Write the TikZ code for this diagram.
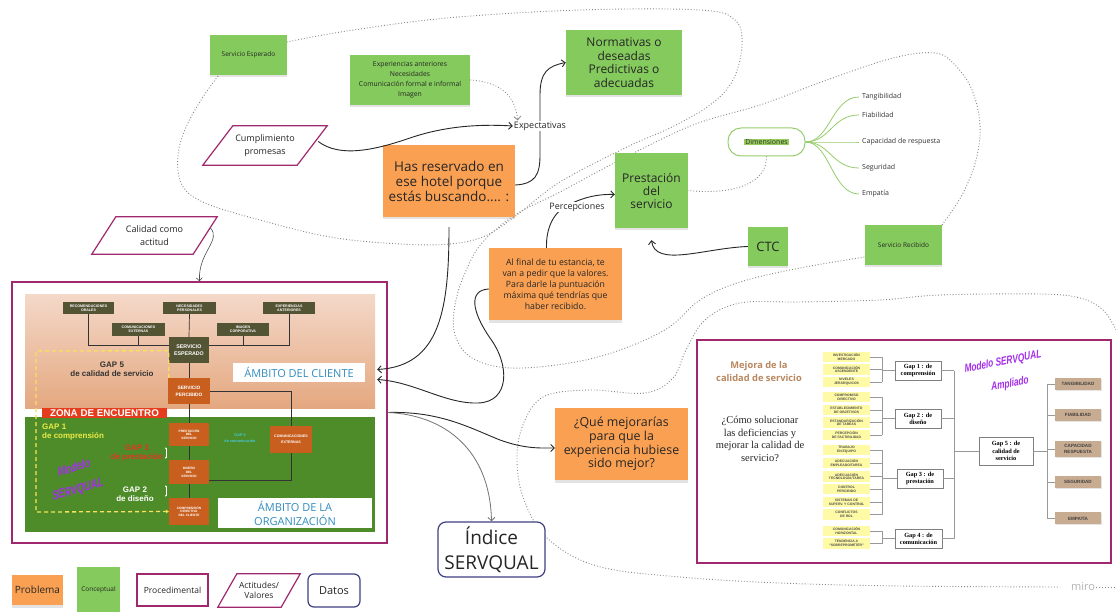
\documentclass[tikz,border=0pt]{standalone}
\usepackage{fontspec}
\setmainfont{Open Sans}
\newfontfamily\arialf{Liberation Sans}
\newfontfamily\seriff{Liberation Serif}
\usetikzlibrary{shadows,arrows.meta,calc}
\definecolor{orng}{RGB}{250,160,82}
\definecolor{grn}{RGB}{132,202,92}
\definecolor{mag}{RGB}{160,40,110}
\definecolor{navy}{RGB}{62,64,130}
\definecolor{dotg}{RGB}{135,135,135}
\definecolor{olive}{RGB}{82,84,52}
\definecolor{sorng}{RGB}{200,95,30}
\definecolor{zred}{RGB}{230,60,30}
\definecolor{orggrn}{RGB}{78,140,42}
\definecolor{salt}{RGB}{244,216,200}
\definecolor{salb}{RGB}{228,168,128}
\definecolor{ambblue}{RGB}{50,140,190}
\definecolor{purp}{RGB}{165,45,235}
\definecolor{ylw}{RGB}{255,250,165}
\definecolor{tanc}{RGB}{200,172,145}
\definecolor{tantext}{RGB}{185,135,95}
\definecolor{lgrn}{RGB}{150,205,110}
\definecolor{hlg}{RGB}{150,205,90}
\definecolor{gapy}{RGB}{235,235,70}
\definecolor{gapr}{RGB}{225,55,30}
\definecolor{cyanc}{RGB}{70,200,215}
\definecolor{ydash}{RGB}{250,225,90}
\newcommand{\fsz}[2]{\fontsize{#1}{#2}\selectfont}
\newcommand{\pxbox}[7]{\node[#2,minimum width={(#5-#3)*1pt},minimum height={(#6-#4)*1pt},inner sep=0pt] (#1) at ({(#3+#5)/2},{(#4+#6)/2}) {#7};}
\tikzset{
 note/.style={fill=#1, align=center, text=black!85, drop shadow={opacity=0.22,shadow xshift=0pt,shadow yshift=-2.5pt}},
 cloudl/.style={draw=dotg, line width=0.9pt, dash pattern=on 0.9pt off 2pt},
 conn/.style={draw=black!85, line width=0.9pt, -{Straight Barb[length=3.5pt,width=7pt]}},
 connthin/.style={draw=black!70, line width=0.6pt, -{Straight Barb[length=3pt,width=6pt]}},
 conngray/.style={draw=black!55, line width=0.8pt, -{Straight Barb[length=3.5pt,width=7pt]}},
 dotarr/.style={draw=dotg, line width=0.8pt, dash pattern=on 0.9pt off 2pt, -{Straight Barb[length=3.5pt,width=7pt]}},
 brl/.style={draw=lgrn, line width=0.8pt},
 sline/.style={draw=black!80, line width=0.7pt},
 gl/.style={draw=black!40, line width=0.6pt},
 para/.style={draw=mag, line width=1.2pt},
 olbox/.style={fill=olive, text=white, font=\arialf\bfseries\fsz{3.6}{4.2}, align=center},
 obox/.style={fill=sorng, text=white, font=\arialf\bfseries\fsz{3.2}{3.8}, align=center},
 ybox/.style={fill=ylw, minimum width=47pt, minimum height=10.5pt, inner sep=0pt, font=\arialf\bfseries\fsz{3.4}{3.9}, text=black!70, align=center},
 gbox/.style={draw=black!50, line width=0.6pt, fill=white, font=\seriff\bfseries\fsz{6.3}{7.2}, align=center},
 tbox/.style={fill=tanc, font=\arialf\bfseries\fsz{4.6}{5.3}, text=black!75, align=center, drop shadow={opacity=0.2,shadow xshift=0.8pt,shadow yshift=-0.8pt}},
 gapt/.style={font=\arialf\bfseries\fsz{8}{9}, align=center, inner sep=0pt},
 purpt/.style={text=purp, inner sep=0pt, xscale=0.72},
}
\begin{document}
\begin{tikzpicture}[x=1pt,y=-1pt]
\fill[white] (0,0) rectangle (1116,612);
\useasboundingbox (0,0) rectangle (1116,612);

% ---------- dotted clouds ----------
\draw[cloudl] plot[smooth,tension=0.6] coordinates {(218,76) (203,97) (187,125) (178,155) (182,185) (205,203) (260,220) (330,237) (400,244) (450,244) (485,236) (517,215) (560,182) (627,147) (670,128) (710,105) (733,80) (742,45) (735,20) (700,10) (580,10) (447,18) (347,31) (287,42)};
\draw[cloudl] plot[smooth,tension=0.6] coordinates {(942,225) (962,195) (976,160) (980,125) (972,90) (955,65) (935,53) (893,58) (827,80) (760,105) (693,125) (620,160) (560,192) (515,215) (482,243) (465,273) (455,305) (455,335) (472,358) (510,368) (570,363) (620,350) (668,328) (700,300) (740,282) (800,268) (865,257)};
\draw[cloudl] plot[smooth,tension=0.6] coordinates {(1116,330) (1103,310) (1080,298) (1040,294) (940,295) (880,300) (800,302) (740,303) (705,320) (686,350) (673,378) (645,393) (590,390) (545,396) (525,420) (517,455) (523,497) (547,538) (597,566) (680,577) (780,583) (900,586) (1060,587)};
\node[text=black!30, font=\fsz{11}{12}, inner sep=1pt] (miro) at (1083,587) {miro};
\draw[cloudl] (miro.east) -- (1116,587);

% ---------- main notes ----------
\pxbox{sesp0}{note=grn, font=\fsz{6.5}{8}}{210}{35}{287}{75}{Servicio Esperado}
\pxbox{exper}{note=grn, font=\fsz{6.8}{10}}{350}{55}{470}{105}{Experiencias anteriores\\Necesidades\\Comunicación formal e informal\\Imagen}
\pxbox{normat}{note=grn, font=\fsz{12}{13.5}}{566}{30}{682}{95}{Normativas o\\deseadas\\Predictivas o\\adecuadas}
\pxbox{hasres}{note=orng, font=\fsz{13.5}{15}}{383}{145}{515}{217}{Has reservado en\\ese hotel porque\\estás buscando.... :}
\pxbox{prest}{note=grn, font=\fsz{12}{13}}{615}{153}{688}{228}{Prestación\\del\\servicio}
\pxbox{ctc}{note=grn, font=\fsz{13}{14}}{748}{227}{788}{266}{CTC}
\pxbox{srec}{note=grn, font=\fsz{6.5}{8}}{865}{225}{942}{265}{Servicio Recibido}
\pxbox{alfinal}{note=orng, font=\fsz{8.7}{11}}{489}{248}{622}{320}{Al final de tu estancia, te\\van a pedir que la valores.\\Para darle la puntuación\\máxima qué tendrías que\\haber recibido.}
\pxbox{quemej}{note=orng, font=\fsz{12.4}{13.7}}{555}{408}{688}{480}{¿Qué mejorarías\\para que la\\experiencia hubiese\\sido mejor?}
\pxbox{indice}{draw=navy, line width=1.2pt, rounded corners=8pt, fill=white, align=center, text=black!85, font=\fsz{19}{25}}{438}{522}{545}{577}{Índice\\SERVQUAL}
\pxbox{dim}{draw=lgrn, line width=1pt, rounded corners=13pt, fill=white, text=black!80, font=\fsz{7}{8}}{728}{128}{805}{156}{{\setlength{\fboxsep}{0.8pt}\colorbox{hlg}{Dimensiones}}}

\foreach \nm/\yy/\tx in {bt/97/Tangibilidad, bf/115/Fiabilidad, bc/142/Capacidad de respuesta, bs/168/Seguridad, be/194/Empatía}{
 \node[anchor=west, inner sep=1pt, font=\fsz{7}{8}, text=black!80] (\nm) at (861,\yy) {\tx};
 \draw[brl] (dim.east) .. controls (830,142) and (832,\yy) .. ([xshift=-2pt]\nm.west);
}

% parallelograms
\pxbox{cumpl}{align=center, text=black!85, font=\fsz{9}{13}}{203}{126}{327}{165}{Cumplimiento\\promesas}
\draw[para] (cumpl.south west) -- ([xshift=30pt]cumpl.north west) -- (cumpl.north east) -- ([xshift=-30pt]cumpl.south east) -- cycle;
\pxbox{calid}{align=center, text=black!85, font=\fsz{9}{13}}{92}{217}{217}{254}{Calidad como\\actitud}
\draw[para] (calid.south west) -- ([xshift=24pt]calid.north west) -- (calid.north east) -- ([xshift=-24pt]calid.south east) -- cycle;

% ---------- legend ----------
\pxbox{lprob}{note=orng, font=\fsz{10}{11}}{12}{575}{63}{605}{Problema}
\pxbox{lconc}{note=grn, font=\fsz{6.5}{8}}{77}{567}{120}{612}{Conceptual}
\pxbox{lproc}{draw=mag, line width=1.2pt, fill=white, text=black!85, font=\fsz{8.5}{10}}{137}{574}{208}{606}{Procedimental}
\pxbox{lact}{align=center, text=black!85, font=\fsz{8.5}{10.5}}{218}{574}{300}{607}{Actitudes/\\Valores}
\draw[para] (lact.south west) -- ([xshift=19pt]lact.north west) -- (lact.north east) -- ([xshift=-19pt]lact.south east) -- cycle;
\pxbox{ldat}{draw=navy, line width=1.2pt, rounded corners=6pt, fill=white, text=black!85, font=\fsz{11}{12}}{308}{574}{360}{607}{Datos}

% ---------- left SERVQUAL picture ----------
\pxbox{leftbox}{draw=mag, line width=1.5pt, fill=white}{12}{282}{387}{543}{}
\shade[top color=salt, bottom color=salb] (25,295) rectangle (375,408);
\fill[orggrn] (25,417) rectangle (375,532);
\pxbox{rec}{olbox}{63}{302}{114}{314}{RECOMENDACIONES\\ORALES}
\pxbox{nec}{olbox}{163}{302}{216}{314}{NECESIDADES\\PERSONALES}
\pxbox{expa}{olbox}{263}{302}{315}{314}{EXPERIENCIAS\\ANTERIORES}
\pxbox{comx}{olbox}{112}{323}{165}{336}{COMUNICACIONES\\EXTERNAS}
\pxbox{imag}{olbox}{217}{323}{269}{336}{IMAGEN\\CORPORATIVA}
\pxbox{sesp}{olbox, font=\arialf\bfseries\fsz{5.3}{7.5}}{169}{337}{209}{363}{SERVICIO\\ESPERADO}
\pxbox{sperc}{obox, font=\arialf\bfseries\fsz{4.8}{6.8}}{168}{378}{210}{404}{SERVICIO\\PERCIBIDO}
\pxbox{prs}{obox}{169}{423}{209}{446}{PRESTACIÓN\\DEL\\SERVICIO}
\pxbox{dis}{obox}{169}{460}{209}{484}{DISEÑO\\DEL\\SERVICIO}
\pxbox{cmp}{obox}{169}{498}{209}{525}{COMPRENSIÓN\\DIRECTIVA\\DEL CLIENTE}
\pxbox{comx2}{obox, font=\arialf\bfseries\fsz{3.6}{5.5}}{270}{426}{312}{453}{COMUNICACIONES\\EXTERNAS}
\draw[sline] (rec.south) |- ([yshift=5pt]sesp.west);
\draw[sline] (expa.south) |- ([yshift=5pt]sesp.east);
\draw[sline] (comx.south) -- ++(0,9);
\draw[sline] (imag.south) -- ++(0,9);
\draw[sline] (nec.south) -- (sesp.north);
\draw[sline] (sesp.south) -- (sperc.north);
\draw[sline] (sperc.south) -- (prs.north);
\draw[sline] (prs.south) -- (dis.north);
\draw[sline] (dis.south) -- (cmp.north);
\draw[sline] (sperc.east) -| (comx2.north);
\draw[sline] (comx2.south) |- ([yshift=-8pt]dis.east);
\draw[draw=ydash, line width=1.3pt, dash pattern=on 4pt off 3pt, -{Stealth[length=3pt,width=4pt]}] ([xshift=1pt]sperc.north west) -- ++(0,-27) -- (36,351) -- (36,512) -- (cmp.west);
\draw[draw=white, line width=0.6pt, {Stealth[length=2pt]}-{Stealth[length=2pt]}] ([xshift=-3pt,yshift=-1pt]prs.south west) -- ([xshift=-3pt,yshift=1pt]dis.north west);
\draw[draw=white, line width=0.6pt, {Stealth[length=2pt]}-{Stealth[length=2pt]}] ([xshift=-3pt,yshift=-1pt]dis.south west) -- ([xshift=-3pt,yshift=1pt]cmp.north west);
\pxbox{cliente}{fill=white, text=ambblue, font=\fsz{11}{12}}{233}{363}{365}{382}{ÁMBITO DEL CLIENTE}
\pxbox{org}{fill=white, text=ambblue, font=\fsz{11}{14}, align=center}{218}{498}{372}{528}{ÁMBITO DE LA\\ORGANIZACIÓN}
\pxbox{zona}{fill=zred, text=white, font=\arialf\bfseries\fsz{9.8}{10}}{42}{408}{167}{418}{ZONA DE ENCUENTRO}
\node[gapt, text=black!80] (gap5) at (112,369) {GAP 5\\de calidad de servicio};
\node[gapt, text=gapy, align=left, anchor=west] (gap1) at (42,432) {GAP 1\\de comprensión};
\node[gapt, text=gapr] (gap3) at (137,453.5) {GAP 3\\de prestación};
\node[gapt, text=white] (gap2) at (135,494) {GAP 2\\de diseño};
\node[font=\arialf\bfseries\fsz{3.8}{6}, text=cyanc, align=center] (gap4) at (240,438) {GAP 4\\de comunicación};
\node[purpt, font=\arialf\bfseries\itshape\fsz{13}{14}, rotate=12] (mod1a) at (74,467) {Modelo};
\node[purpt, font=\arialf\bfseries\itshape\fsz{13}{14}, rotate=12] (mod1b) at (78,490) {SERVQUAL};

% ---------- right SERVQUAL picture ----------
\pxbox{rightbox}{draw=mag, line width=1.5pt, fill=white}{697}{340}{1111}{563}{}
\node[font=\bfseries\fsz{9.3}{13}, text=tantext, align=center] (mejora) at (759,372) {Mejora de la\\calidad de servicio};
\node[font=\seriff\fsz{10.5}{12.7}, text=black!85, align=center] (como) at (760,439) {¿Cómo solucionar\\las deficiencias y\\mejorar la calidad de\\servicio?};
\foreach \nm/\yy/\tx in {
 ya/357/{INVESTIGACIÓN\\MERCADO},
 yb/369.5/{COMUNICACIÓN\\ASCENDENTE},
 yc/382/{NIVELES\\JERÁRQUICOS},
 yd/397/{COMPROMISO\\DIRECTIVO},
 ye/410/{ESTABLECIMIENTO\\DE OBJETIVOS},
 yf/422.5/{ESTANDARIZACIÓN\\DE TAREAS},
 yg/435/{PERCEPCIÓN\\DE FACTIBILIDAD},
 yh/450/{TRABAJO\\EN EQUIPO},
 yi/463/{ADECUACIÓN\\EMPLEADO/TAREA},
 yj/476.5/{ADECUACIÓN\\TECNOLOGÍA/TAREA},
 yk/489/{CONTROL\\PERCIBIDO},
 yl/502/{SISTEMAS DE\\SUPERV. Y CONTROL},
 ym/514.5/{CONFLICTOS\\DE ROL},
 yn/531/{COMUNICACIÓN\\HORIZONTAL},
 yo/543.5/{TENDENCIA A\\“SOBREPROMETER”}}{
 \node[ybox] (\nm) at (846.5,\yy) {\tx};
 \draw[gl] (\nm.east) -- ++(12,0);
}
\draw[gl] (882,357) -- (882,382);
\draw[gl] (882,397) -- (882,435);
\draw[gl] (882,450) -- (882,514.5);
\draw[gl] (882,531) -- (882,543.5);
\pxbox{g1}{gbox}{895}{361}{941}{380}{Gap 1 : de\\comprensión}
\pxbox{g2}{gbox}{895}{409}{941}{428}{Gap 2 : de\\diseño}
\pxbox{g3}{gbox}{897}{469}{943}{488}{Gap 3 : de\\prestación}
\pxbox{g4}{gbox}{895}{529}{942}{548}{Gap 4 : de\\comunicación}
\pxbox{g5}{gbox}{979}{437}{1033}{465}{Gap 5 : de\\calidad de\\servicio}
\foreach \g in {g1,g2,g4}{\draw[gl] (\g.west) -- ++(-13,0); \draw[gl] (\g.east) -- (954,0 |- \g.east);}
\draw[gl] (g3.west) -- ++(-15,0); \draw[gl] (g3.east) -- ++(11,0);
\draw[gl] (954,370.5) -- (954,538.5);
\draw[gl] (g5.west) -- ++(-25,0);
\draw[gl] (g5.east) -- ++(14,0);
\draw[gl] (1047,384) -- (1047,518);
\pxbox{t1}{tbox}{1055}{378}{1101}{390}{TANGIBILIDAD}
\pxbox{t2}{tbox}{1055}{409}{1101}{421}{FIABILIDAD}
\pxbox{t3}{tbox}{1055}{441}{1101}{457}{CAPACIDAD\\RESPUESTA}
\pxbox{t4}{tbox}{1055}{476}{1101}{488}{SEGURIDAD}
\pxbox{t5}{tbox}{1055}{512}{1101}{524}{EMPATÍA}
\foreach \t in {t1,t2,t3,t4,t5}{\draw[gl] (\t.west) -- ++(-8,0);}
\node[purpt, font=\arialf\bfseries\itshape\fsz{11.5}{14}, rotate=8] (mod2a) at (1003,362) {Modelo SERVQUAL};
\node[purpt, font=\arialf\bfseries\itshape\fsz{11.5}{14}, rotate=8] (mod2b) at (1010,384) {Ampliado};

% ---------- connectors ----------
\draw[conn] ([yshift=-4pt]hasres.east) .. controls (535,184) and (540,175) .. (540,155) -- (540,95) .. controls (540,72) and (548,66) .. (normat.west);
\node[fill=white, inner sep=1pt, text=black!85, font=\fsz{9}{10}] (expect) at (540,126) {Expectativas};
\draw[dotarr] (exper.east) .. controls (500,82) and (515,95) .. ([xshift=5pt]expect.north west);
\draw[conn] ([xshift=-9pt,yshift=4pt]cumpl.east) .. controls (340,158) and (375,150) .. (410,138) .. controls (445,126) and (480,124) .. (expect.west);

\draw[conn] ([xshift=-9pt]alfinal.north) .. controls (546,230) and (552,212) .. (570,204) .. controls (585,197) and (598,194) .. ([yshift=-4pt]prest.west);
\node[fill=white, inner sep=1pt, text=black!85, font=\fsz{8.9}{10}] (percep) at (577,207) {Percepciones};

\draw[conn] (ctc.west) .. controls (705,248) and (655,268) .. ([yshift=-12pt]prest.south);
\draw[cloudl] (dim.south) .. controls (767,185) and (730,195) .. (prest.east);

\draw[connthin] ([xshift=-7pt,yshift=-11pt]calid.north east) .. controls (222,240) and (198,252) .. (leftbox.north);

\draw[conn] ([yshift=-10pt]hasres.south) .. controls (449,310) and (440,366) .. ([xshift=12pt,yshift=3pt]cliente.east);
\draw[conn] ([yshift=-5pt]alfinal.west) .. controls (468,290) and (472,312) .. (490,338) .. controls (510,365) and (510,402) .. (478,403) .. controls (445,404) and (415,382) .. ([xshift=12pt,yshift=-7pt]cliente.east);
\draw[conn] (leftbox.east) .. controls (440,411) and (470,428) .. (500,440) .. controls (525,449) and (540,448) .. ([yshift=-4pt]quemej.west);
\draw[conngray] (leftbox.east) .. controls (445,415) and (490,450) .. (indice.north);
\end{tikzpicture}
\end{document}
